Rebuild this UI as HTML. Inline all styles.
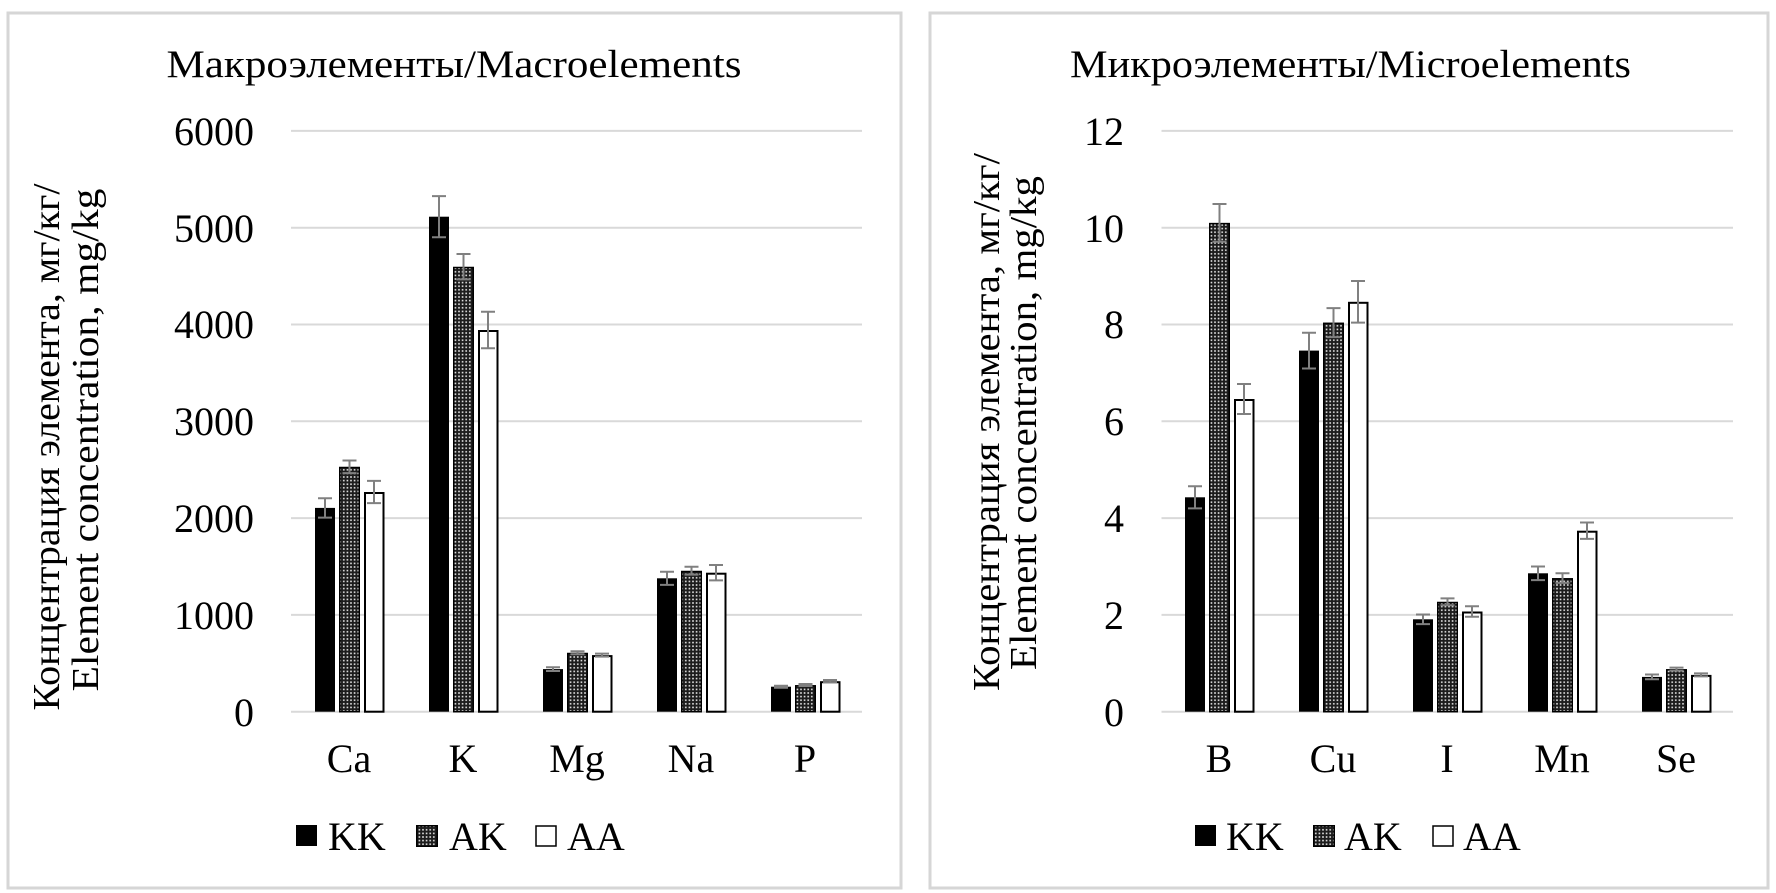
<!DOCTYPE html>
<html>
<head>
<meta charset="utf-8">
<style>
html,body{margin:0;padding:0;background:#fff;}
svg{display:block;}
text{font-family:"Liberation Serif","Noto Serif CJK SC",serif;fill:#000;}
</style>
</head>
<body>
<svg width="1776" height="893" viewBox="0 0 1776 893" xmlns="http://www.w3.org/2000/svg">
<defs>
<pattern id="ak" width="3.6" height="3.6" patternUnits="userSpaceOnUse">
<rect width="3.6" height="3.6" fill="#1c1c1c"/>
<rect x="1" y="1" width="1.6" height="1.6" fill="#e6e6e6"/>
</pattern>
</defs>
<rect x="0" y="0" width="1776" height="893" fill="#fff"/>

<!-- Panel borders -->
<rect x="8" y="13" width="893" height="875" fill="none" stroke="#d6d6d6" stroke-width="3"/>
<rect x="930" y="13" width="838" height="875" fill="none" stroke="#d6d6d6" stroke-width="3"/>

<!-- ================= LEFT PANEL ================= -->
<text x="166.5" y="77" font-size="39" textLength="575" lengthAdjust="spacingAndGlyphs">Макроэлементы/Macroelements</text>

<g stroke="#d9d9d9" stroke-width="2">
<line x1="291" y1="130.9" x2="862" y2="130.9"/>
<line x1="291" y1="227.7" x2="862" y2="227.7"/>
<line x1="291" y1="324.5" x2="862" y2="324.5"/>
<line x1="291" y1="421.3" x2="862" y2="421.3"/>
<line x1="291" y1="518.1" x2="862" y2="518.1"/>
<line x1="291" y1="614.9" x2="862" y2="614.9"/>
<line x1="291" y1="711.7" x2="862" y2="711.7"/>
</g>

<g font-size="40" text-anchor="end">
<text x="254" y="145">6000</text>
<text x="254" y="242">5000</text>
<text x="254" y="338">4000</text>
<text x="254" y="435">3000</text>
<text x="254" y="532">2000</text>
<text x="254" y="629">1000</text>
<text x="254" y="726">0</text>
</g>

<g font-size="38" text-anchor="middle">
<text transform="translate(59,447) rotate(-90)" textLength="527" lengthAdjust="spacingAndGlyphs">Концентрация элемента, мг/кг/</text>
<text transform="translate(98,440) rotate(-90)" textLength="503" lengthAdjust="spacingAndGlyphs">Element concentration, mg/kg</text>
</g>

<!-- Left bars -->
<g>
<!-- Ca -->
<rect x="315" y="507.9" width="20" height="203.8" fill="#000"/>
<rect x="339.75" y="467.5" width="19.5" height="244.2" fill="url(#ak)" stroke="#000" stroke-width="1.5"/>
<rect x="365" y="493" width="18.5" height="218.7" fill="#fff" stroke="#000" stroke-width="2"/>
<!-- K -->
<rect x="429" y="216.7" width="20" height="495" fill="#000"/>
<rect x="453.75" y="267.5" width="19.5" height="444.2" fill="url(#ak)" stroke="#000" stroke-width="1.5"/>
<rect x="479" y="331" width="18.5" height="380.7" fill="#fff" stroke="#000" stroke-width="2"/>
<!-- Mg -->
<rect x="543" y="669.1" width="20" height="42.6" fill="#000"/>
<rect x="567.75" y="653.5" width="19.5" height="58.2" fill="url(#ak)" stroke="#000" stroke-width="1.5"/>
<rect x="593" y="656.1" width="18.5" height="55.6" fill="#fff" stroke="#000" stroke-width="2"/>
<!-- Na -->
<rect x="657" y="578.3" width="20" height="133.4" fill="#000"/>
<rect x="681.75" y="571.5" width="19.5" height="140.2" fill="url(#ak)" stroke="#000" stroke-width="1.5"/>
<rect x="707" y="573.7" width="18.5" height="138" fill="#fff" stroke="#000" stroke-width="2"/>
<!-- P -->
<rect x="771" y="686.7" width="20" height="25" fill="#000"/>
<rect x="795.75" y="685.8" width="19.5" height="25.9" fill="url(#ak)" stroke="#000" stroke-width="1.5"/>
<rect x="821" y="682.2" width="18.5" height="29.5" fill="#fff" stroke="#000" stroke-width="2"/>
</g>

<!-- Left error bars -->
<g stroke="#808080" stroke-width="2" fill="none">
<path d="M325 498.2V517.6M318 498.2H332M318 517.6H332"/>
<path d="M349.5 460.5V473.1M342.5 460.5H356.5M342.5 473.1H356.5"/>
<path d="M374 480.9V503.1M367 480.9H381M367 503.1H381"/>
<path d="M439 196.1V237.3M432 196.1H446M432 237.3H446"/>
<path d="M463.5 254V279.4M456.5 254H470.5M456.5 279.4H470.5"/>
<path d="M488 311.7V348.3M481 311.7H495M481 348.3H495"/>
<path d="M553 667.2V671M546 667.2H560M546 671H560"/>
<path d="M577.5 651.2V654.2M570.5 651.2H584.5M570.5 654.2H584.5"/>
<path d="M602 653.6V656.6M595 653.6H609M595 656.6H609"/>
<path d="M667 571.7V584.9M660 571.7H674M660 584.9H674"/>
<path d="M691.5 566.8V574.6M684.5 566.8H698.5M684.5 574.6H698.5"/>
<path d="M716 565V580.4M709 565H723M709 580.4H723"/>
<path d="M781 685.7V687.7M774 685.7H788M774 687.7H788"/>
<path d="M805.5 684V686M798.5 684H812.5M798.5 686H812.5"/>
<path d="M830 680V682.4M823 680H837M823 682.4H837"/>
</g>

<g font-size="40" text-anchor="middle">
<text x="349" y="772">Ca</text>
<text x="463" y="772">K</text>
<text x="577" y="772">Mg</text>
<text x="691" y="772">Na</text>
<text x="805" y="772">P</text>
</g>

<!-- Left legend -->
<rect x="296" y="825" width="21" height="21" fill="#000"/>
<rect x="416.75" y="825.75" width="20.5" height="20.5" fill="url(#ak)" stroke="#000" stroke-width="1.5"/>
<rect x="536" y="826" width="20" height="20" fill="#fff" stroke="#000" stroke-width="1.5"/>
<g font-size="40">
<text x="328" y="850">KK</text>
<text x="449" y="850">AK</text>
<text x="567" y="850">AA</text>
</g>

<!-- ================= RIGHT PANEL ================= -->
<text x="1070" y="77" font-size="39" textLength="561" lengthAdjust="spacingAndGlyphs">Микроэлементы/Microelements</text>

<g stroke="#d9d9d9" stroke-width="2">
<line x1="1161.5" y1="130.9" x2="1733" y2="130.9"/>
<line x1="1161.5" y1="227.7" x2="1733" y2="227.7"/>
<line x1="1161.5" y1="324.5" x2="1733" y2="324.5"/>
<line x1="1161.5" y1="421.3" x2="1733" y2="421.3"/>
<line x1="1161.5" y1="518.1" x2="1733" y2="518.1"/>
<line x1="1161.5" y1="614.9" x2="1733" y2="614.9"/>
<line x1="1161.5" y1="711.7" x2="1733" y2="711.7"/>
</g>

<g font-size="40" text-anchor="end">
<text x="1124" y="145">12</text>
<text x="1124" y="242">10</text>
<text x="1124" y="338">8</text>
<text x="1124" y="435">6</text>
<text x="1124" y="532">4</text>
<text x="1124" y="629">2</text>
<text x="1124" y="726">0</text>
</g>

<g font-size="38" text-anchor="middle">
<text transform="translate(999,422) rotate(-90)" textLength="538" lengthAdjust="spacingAndGlyphs">Концентрация элемента, мг/кг/</text>
<text transform="translate(1036,423) rotate(-90)" textLength="494" lengthAdjust="spacingAndGlyphs">Element concentration, mg/kg</text>
</g>

<!-- Right bars -->
<g>
<!-- B -->
<rect x="1185" y="497.3" width="20" height="214.4" fill="#000"/>
<rect x="1209.75" y="223.6" width="19.5" height="488.1" fill="url(#ak)" stroke="#000" stroke-width="1.5"/>
<rect x="1235" y="400" width="18.5" height="311.7" fill="#fff" stroke="#000" stroke-width="2"/>
<!-- Cu -->
<rect x="1299" y="350.6" width="20" height="361.1" fill="#000"/>
<rect x="1323.75" y="323.3" width="19.5" height="388.4" fill="url(#ak)" stroke="#000" stroke-width="1.5"/>
<rect x="1349" y="302.8" width="18.5" height="408.9" fill="#fff" stroke="#000" stroke-width="2"/>
<!-- I -->
<rect x="1413" y="619.3" width="20" height="92.4" fill="#000"/>
<rect x="1437.75" y="602.5" width="19.5" height="109.2" fill="url(#ak)" stroke="#000" stroke-width="1.5"/>
<rect x="1463" y="612.5" width="18.5" height="99.2" fill="#fff" stroke="#000" stroke-width="2"/>
<!-- Mn -->
<rect x="1528" y="573.3" width="20" height="138.4" fill="#000"/>
<rect x="1552.75" y="578.8" width="19.5" height="132.9" fill="url(#ak)" stroke="#000" stroke-width="1.5"/>
<rect x="1578" y="531.7" width="18.5" height="180" fill="#fff" stroke="#000" stroke-width="2"/>
<!-- Se -->
<rect x="1642" y="676.9" width="20" height="34.8" fill="#000"/>
<rect x="1666.75" y="669.8" width="19.5" height="41.9" fill="url(#ak)" stroke="#000" stroke-width="1.5"/>
<rect x="1692" y="675.9" width="18.5" height="35.8" fill="#fff" stroke="#000" stroke-width="2"/>
</g>

<!-- Right error bars -->
<g stroke="#808080" stroke-width="2" fill="none">
<path d="M1195 486.2V508.4M1188 486.2H1202M1188 508.4H1202"/>
<path d="M1219.5 204V241.8M1212.5 204H1226.5M1212.5 241.8H1226.5"/>
<path d="M1244 384V414M1237 384H1251M1237 414H1251"/>
<path d="M1309 332.7V368.5M1302 332.7H1316M1302 368.5H1316"/>
<path d="M1333.5 308.1V337.1M1326.5 308.1H1340.5M1326.5 337.1H1340.5"/>
<path d="M1358 281V322.6M1351 281H1365M1351 322.6H1365"/>
<path d="M1423 614.5V624.1M1416 614.5H1430M1416 624.1H1430"/>
<path d="M1447.5 598.4V605.2M1440.5 598.4H1454.5M1440.5 605.2H1454.5"/>
<path d="M1472 606.2V616.8M1465 606.2H1479M1465 616.8H1479"/>
<path d="M1538 566.5V580.1M1531 566.5H1545M1531 580.1H1545"/>
<path d="M1562.5 573.3V582.9M1555.5 573.3H1569.5M1555.5 582.9H1569.5"/>
<path d="M1587 522.5V538.9M1580 522.5H1594M1580 538.9H1594"/>
<path d="M1652 674.5V679.3M1645 674.5H1659M1645 679.3H1659"/>
<path d="M1676.5 667.6V670.6M1669.5 667.6H1683.5M1669.5 670.6H1683.5"/>
<path d="M1701 673.4V676.4M1694 673.4H1708M1694 676.4H1708"/>
</g>

<g font-size="40" text-anchor="middle">
<text x="1219" y="772">B</text>
<text x="1333" y="772">Cu</text>
<text x="1447" y="772">I</text>
<text x="1562" y="772">Mn</text>
<text x="1676" y="772">Se</text>
</g>

<!-- Right legend -->
<rect x="1195" y="825" width="21" height="21" fill="#000"/>
<rect x="1313.75" y="825.75" width="20.5" height="20.5" fill="url(#ak)" stroke="#000" stroke-width="1.5"/>
<rect x="1433" y="826" width="20" height="20" fill="#fff" stroke="#000" stroke-width="1.5"/>
<g font-size="40">
<text x="1226" y="850">KK</text>
<text x="1344" y="850">AK</text>
<text x="1463" y="850">AA</text>
</g>
</svg>
</body>
</html>
